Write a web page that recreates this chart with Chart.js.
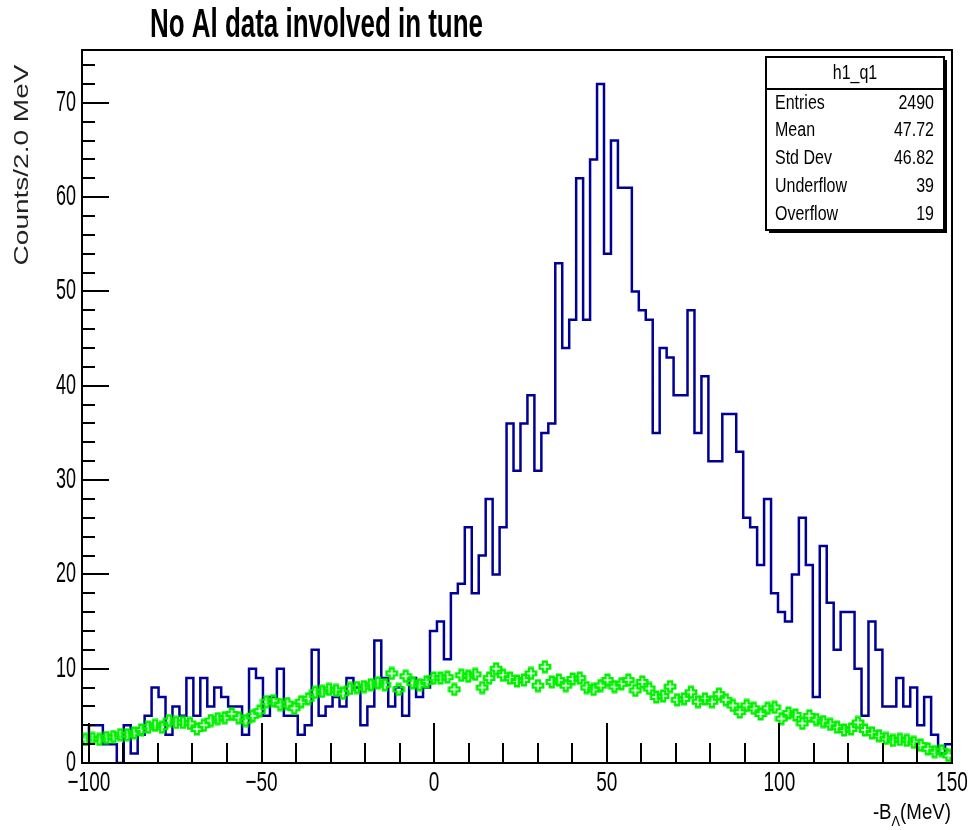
<!DOCTYPE html>
<html>
<head>
<meta charset="utf-8">
<script src="https://cdn.jsdelivr.net/npm/chart.js@4.4.1/dist/chart.umd.min.js"></script>
<style>
  html, body { margin: 0; padding: 0; background: #fff; }
  canvas { display: block; }
</style>
</head>
<body>
<canvas id="h1q1" width="969" height="830"></canvas>
<script>
// histogram binning: 125 bins between xMin and xMax
const xMin = -102;
const xMax = 150;
const nBins = 125;
const yMax = 75.6;

// h1_q1 bin contents (blue outline)
const blueCounts = [
  2, 4, 4, 2, 2, 0, 4, 1, 3, 5,
  8, 7, 3, 6, 5, 9, 5, 9, 6, 8,
  7, 6, 6, 3, 10, 9, 5, 7, 10, 5,
  5, 3, 4, 12, 5, 6, 7, 6, 9, 8,
  4, 6, 13, 9, 6, 8, 5, 9, 7, 8,
  14, 15, 11, 18, 19, 25, 18, 22, 28, 20,
  25, 36, 31, 36, 39, 31, 35, 36, 53, 44,
  47, 62, 47, 64, 72, 54, 66, 61, 61, 50,
  48, 47, 35, 44, 43, 39, 39, 48, 35, 41,
  32, 32, 37, 37, 33, 26, 25, 21, 28, 18,
  16, 15, 20, 26, 21, 7, 23, 17, 12, 16,
  16, 10, 5, 15, 12, 6, 6, 9, 6, 8,
  4, 7, 3, 1, 2
];

// background estimate drawn as green markers
const greenCounts = [
  2.5, 2.6, 2.5, 2.7, 2.8, 3.0, 3.0, 3.2, 3.5, 3.8,
  4.0, 3.8, 4.5, 4.3, 4.3, 4.2, 3.6, 4.0, 4.5, 4.7,
  4.8, 5.2, 4.8, 4.5, 5.0, 5.5, 6.5, 6.6, 6.2, 6.3,
  5.8, 6.5, 6.8, 7.5, 7.6, 7.8, 7.7, 7.4, 7.9, 8.0,
  8.1, 8.3, 8.5, 8.3, 9.5, 7.8, 9.2, 8.5, 8.3, 8.6,
  9.0, 9.0, 9.1, 7.8, 9.3, 9.2, 9.4, 8.0, 9.0, 10.0,
  9.3, 9.0, 8.7, 8.8, 9.5, 8.2, 10.2, 8.6, 8.8, 8.2,
  8.9, 9.0, 8.0, 7.8, 8.2, 8.8, 8.1, 8.4, 8.8, 7.7,
  8.6, 7.9, 7.0, 7.1, 8.1, 6.7, 6.8, 7.5, 6.5, 6.8,
  6.5, 7.3, 6.7, 6.1, 5.4, 6.1, 5.8, 5.2, 5.8, 5.9,
  4.7, 5.3, 5.1, 4.2, 5.0, 4.6, 4.4, 4.1, 3.8, 3.5,
  3.6, 4.3, 3.5, 3.2, 2.9, 2.6, 2.4, 2.5, 2.4, 2.2,
  1.9, 1.5, 1.2, 1.3, 0.8
];

const xTickLabels = [-100, -50, 0, 50, 100, 150];
const yTickLabels = [0, 10, 20, 30, 40, 50, 60, 70];

const statLabels = ["Entries", "Mean", "Std Dev", "Underflow", "Overflow"];
const statValues = ["2490", "47.72", "46.82", "39", "19"];

const titleText = "No Al data involved in tune";
const yTitle = "Counts/2.0 MeV";

const binWidth = (xMax - xMin) / nBins;

// outline points at the left edge of every bin, plus the closing edge
const bluePoints = blueCounts.map((c, i) => ({ x: xMin + i * binWidth, y: c }));
bluePoints.push({ x: xMax, y: blueCounts[nBins - 1] });

const greenPoints = greenCounts.map((c, i) => ({ x: xMin + (i + 0.5) * binWidth, y: c }));

// ROOT style open cross marker
function openCross(color) {
  const c = document.createElement("canvas");
  c.width = 14; c.height = 14;
  const g = c.getContext("2d");
  const m = 7, a = 5.2, w = 1.9;
  g.strokeStyle = color;
  g.lineWidth = 2.4;
  g.beginPath();
  g.moveTo(m - w, m - a); g.lineTo(m + w, m - a); g.lineTo(m + w, m - w);
  g.lineTo(m + a, m - w); g.lineTo(m + a, m + w); g.lineTo(m + w, m + w);
  g.lineTo(m + w, m + a); g.lineTo(m - w, m + a); g.lineTo(m - w, m + w);
  g.lineTo(m - a, m + w); g.lineTo(m - a, m - w); g.lineTo(m - w, m - w);
  g.closePath();
  g.stroke();
  return c;
}

function squeezed(ctx, text, x, y, font, sx, align) {
  ctx.save();
  ctx.font = font;
  ctx.textAlign = align;
  ctx.translate(x, y);
  ctx.scale(sx, 1);
  ctx.fillText(text, 0, 0);
  ctx.restore();
}

const FONT = "'Liberation Sans', Arial, sans-serif";

// frame, inward ticks, labels, title and stats box
const rootFrame = {
  id: "rootFrame",
  afterDraw(chart) {
    const ctx = chart.ctx;
    const a = chart.chartArea;
    const xs = chart.scales.x, ys = chart.scales.y;

    ctx.save();
    ctx.strokeStyle = "#000";
    ctx.lineWidth = 2;
    ctx.strokeRect(a.left, a.top, a.right - a.left, a.bottom - a.top);

    ctx.beginPath();
    for (let v = -100; v <= 150; v += 10) {
      const px = Math.round(xs.getPixelForValue(v));
      const len = v % 50 === 0 ? 40 : 20;
      ctx.moveTo(px, a.bottom);
      ctx.lineTo(px, a.bottom - len);
    }
    for (let v = 0; v <= 74; v += 2) {
      const py = Math.round(ys.getPixelForValue(v));
      const len = v % 10 === 0 ? 27 : 13;
      ctx.moveTo(a.left, py);
      ctx.lineTo(a.left + len, py);
    }
    ctx.stroke();

    ctx.fillStyle = "#000";
    ctx.textBaseline = "alphabetic";
    xTickLabels.forEach(v => {
      squeezed(ctx, String(v).replace("-", "\u2212"), xs.getPixelForValue(v), 791, "28px " + FONT, 0.68, "center");
    });
    ctx.textBaseline = "middle";
    yTickLabels.forEach(v => {
      squeezed(ctx, String(v), 76, ys.getPixelForValue(v), "29px " + FONT, 0.62, "right");
    });

    // title
    ctx.textBaseline = "alphabetic";
    ctx.font = "bold 41px " + FONT;
    const tw = ctx.measureText(titleText).width;
    squeezed(ctx, titleText, 150, 37, "bold 41px " + FONT, 333 / tw, "left");

    // y axis title
    ctx.save();
    ctx.translate(22, 165);
    ctx.rotate(-Math.PI / 2);
    ctx.scale(1, 0.72);
    ctx.font = "28px " + FONT;
    ctx.fillStyle = "#222";
    ctx.textAlign = "center";
    ctx.textBaseline = "middle";
    ctx.fillText(yTitle, 0, 0);
    ctx.restore();

    // x axis title: -B_Lambda(MeV)
    const sx = 0.85;
    ctx.font = "22px " + FONT;
    const w1 = ctx.measureText("-B").width * sx;
    const w3 = ctx.measureText("(MeV)").width * sx;
    ctx.font = "15px " + FONT;
    const w2 = ctx.measureText("\u039B").width * sx;
    let x0 = 951 - (w1 + w2 + w3);
    squeezed(ctx, "-B", x0, 819, "22px " + FONT, sx, "left");
    squeezed(ctx, "\u039B", x0 + w1, 826, "15px " + FONT, sx, "left");
    squeezed(ctx, "(MeV)", x0 + w1 + w2, 819, "22px " + FONT, sx, "left");

    // stats box
    const bx = 766, by = 57, bw = 178, bh = 173;
    ctx.fillStyle = "#000";
    ctx.fillRect(bx + 3, by + 3, bw, bh);
    ctx.fillStyle = "#fff";
    ctx.fillRect(bx, by, bw, bh);
    ctx.lineWidth = 2;
    ctx.strokeRect(bx, by, bw, bh);
    ctx.beginPath();
    ctx.moveTo(bx, by + 32);
    ctx.lineTo(bx + bw, by + 32);
    ctx.stroke();

    ctx.fillStyle = "#000";
    ctx.textBaseline = "middle";
    squeezed(ctx, "h1_q1", bx + bw / 2, by + 16, "20px " + FONT, 0.8, "center");
    statLabels.forEach((lab, i) => {
      const y = 103 + i * 27.8;
      squeezed(ctx, lab, 775, y, "20px " + FONT, 0.8, "left");
      squeezed(ctx, statValues[i], 934, y, "20px " + FONT, 0.8, "right");
    });
    ctx.restore();
  }
};

const ctx = document.getElementById("h1q1").getContext("2d");
const chart = new Chart(ctx, {
  type: "line",
  data: {
    datasets: [
      {
        label: "background",
        data: greenPoints,
        showLine: false,
        pointStyle: openCross("#00f000"),
        order: 0,
      },
      {
        label: "h1_q1",
        data: bluePoints,
        stepped: "before",
        borderColor: "#000099",
        borderWidth: 2.5,
        pointRadius: 0,
        fill: false,
        order: 1,
      },
    ],
  },
  options: {
    responsive: false,
    animation: false,
    layout: { padding: { top: 50, right: 17, left: 0, bottom: 0 } },
    plugins: {
      legend: { display: false },
      tooltip: { enabled: false },
    },
    scales: {
      x: {
        type: "linear",
        min: xMin,
        max: xMax,
        grid: { display: false },
        border: { display: false },
        ticks: { display: false },
        afterFit: s => { s.height = 67; },
      },
      y: {
        min: 0,
        max: yMax,
        grid: { display: false },
        border: { display: false },
        ticks: { display: false },
        afterFit: s => { s.width = 82; },
      },
    },
  },
  plugins: [rootFrame],
});
</script>
</body>
</html>
